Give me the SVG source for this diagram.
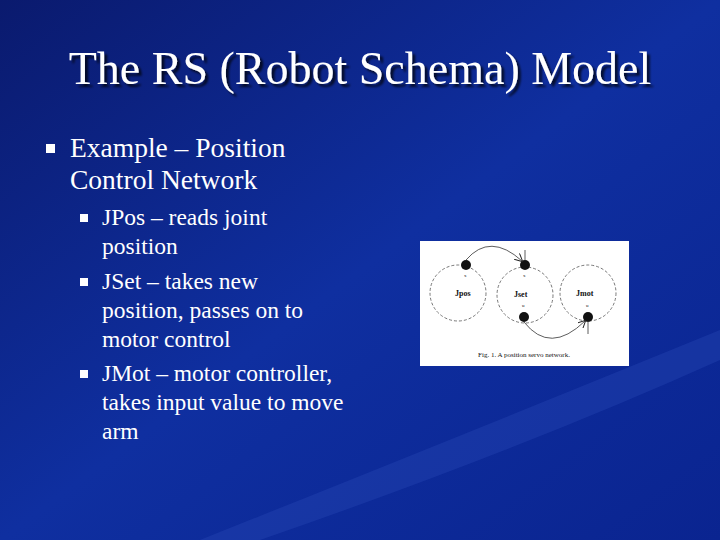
<svg xmlns="http://www.w3.org/2000/svg" width="720" height="540" viewBox="0 0 720 540">
<defs>
<linearGradient id="bg" x1="0" y1="0" x2="1" y2="1">
<stop offset="0" stop-color="#0a1a6e"/><stop offset="0.5" stop-color="#0f2fa0"/><stop offset="1" stop-color="#0a2490"/>
</linearGradient>
<filter id="sh" x="-5%" y="-20%" width="110%" height="150%"><feDropShadow dx="3" dy="3" stdDeviation="0.8" flood-color="#000" flood-opacity="0.7"/></filter>
<marker id="ah" markerWidth="8" markerHeight="8" refX="7" refY="4" orient="auto" markerUnits="userSpaceOnUse"><path d="M0,0 L8,4 L0,8" fill="none" stroke="#222" stroke-width="1"/></marker>
<style>
.t{font-family:"Liberation Serif",serif;fill:#fff}
.b{fill:#fff}
.c{fill:none;stroke:#555;stroke-width:0.8;stroke-dasharray:3 2}
.d{fill:#111}
.s{font-family:"Liberation Serif",serif;fill:#111}
</style>
</defs>
<rect width="720" height="540" fill="url(#bg)"/>
<path d="M200,540 Q500,420 720,330 L720,360 Q520,450 260,540Z" fill="#2a4ab8" opacity="0.35"/>
<text x="360" y="84" text-anchor="middle" class="t" font-size="46" filter="url(#sh)">The RS (Robot Schema) Model</text>
<rect x="46" y="144" width="9" height="9" class="b"/>
<text x="70" y="157" class="t" font-size="27.5">Example – Position</text>
<text x="70" y="189" class="t" font-size="27.5">Control Network</text>
<g font-size="23.5">
<rect x="80" y="214" width="8" height="8" class="b"/>
<text x="102" y="225" class="t">JPos – reads joint</text>
<text x="102" y="254" class="t">position</text>
<rect x="80" y="278" width="8" height="8" class="b"/>
<text x="102" y="289" class="t">JSet – takes new</text>
<text x="102" y="318" class="t">position, passes on to</text>
<text x="102" y="347" class="t">motor control</text>
<rect x="80" y="370" width="8" height="8" class="b"/>
<text x="102" y="381" class="t">JMot – motor controller,</text>
<text x="102" y="410" class="t">takes input value to move</text>
<text x="102" y="439" class="t">arm</text>
</g>
<g id="figure">
<rect x="420" y="241" width="209" height="125" fill="#fff"/>
<g id="jpos"><circle cx="458" cy="293" r="28" class="c"/><text x="455" y="296" class="s" font-size="8" font-weight="bold">Jpos</text><circle cx="466" cy="265" r="5" class="d"/><text x="464" y="277" class="s" font-size="5">x</text></g>
<g id="jset"><circle cx="525" cy="295" r="28" class="c"/><text x="514" y="297" class="s" font-size="8" font-weight="bold">Jset</text><circle cx="525" cy="265" r="5" class="d"/><text x="523" y="277" class="s" font-size="5">x</text><circle cx="524" cy="317" r="5" class="d"/><text x="522" y="307" class="s" font-size="5">u</text></g>
<g id="jmot"><circle cx="588" cy="293" r="28" class="c"/><text x="576" y="296" class="s" font-size="8" font-weight="bold">Jmot</text><circle cx="588" cy="317" r="5" class="d"/><text x="586" y="307" class="s" font-size="5">u</text></g>
<g id="connectors" fill="none" stroke="#333" stroke-width="0.8">
<path d="M466,260 Q490,232 522,261" marker-end="url(#ah)"/>
<path d="M524,322 Q550,355 585,321" marker-end="url(#ah)"/>
<line x1="525" y1="250" x2="525" y2="260"/>
<line x1="588" y1="322" x2="588" y2="334"/>
</g>
<text x="524" y="357" text-anchor="middle" class="s" font-size="7">Fig. 1.   A position servo network.</text>
</g>
</svg>
